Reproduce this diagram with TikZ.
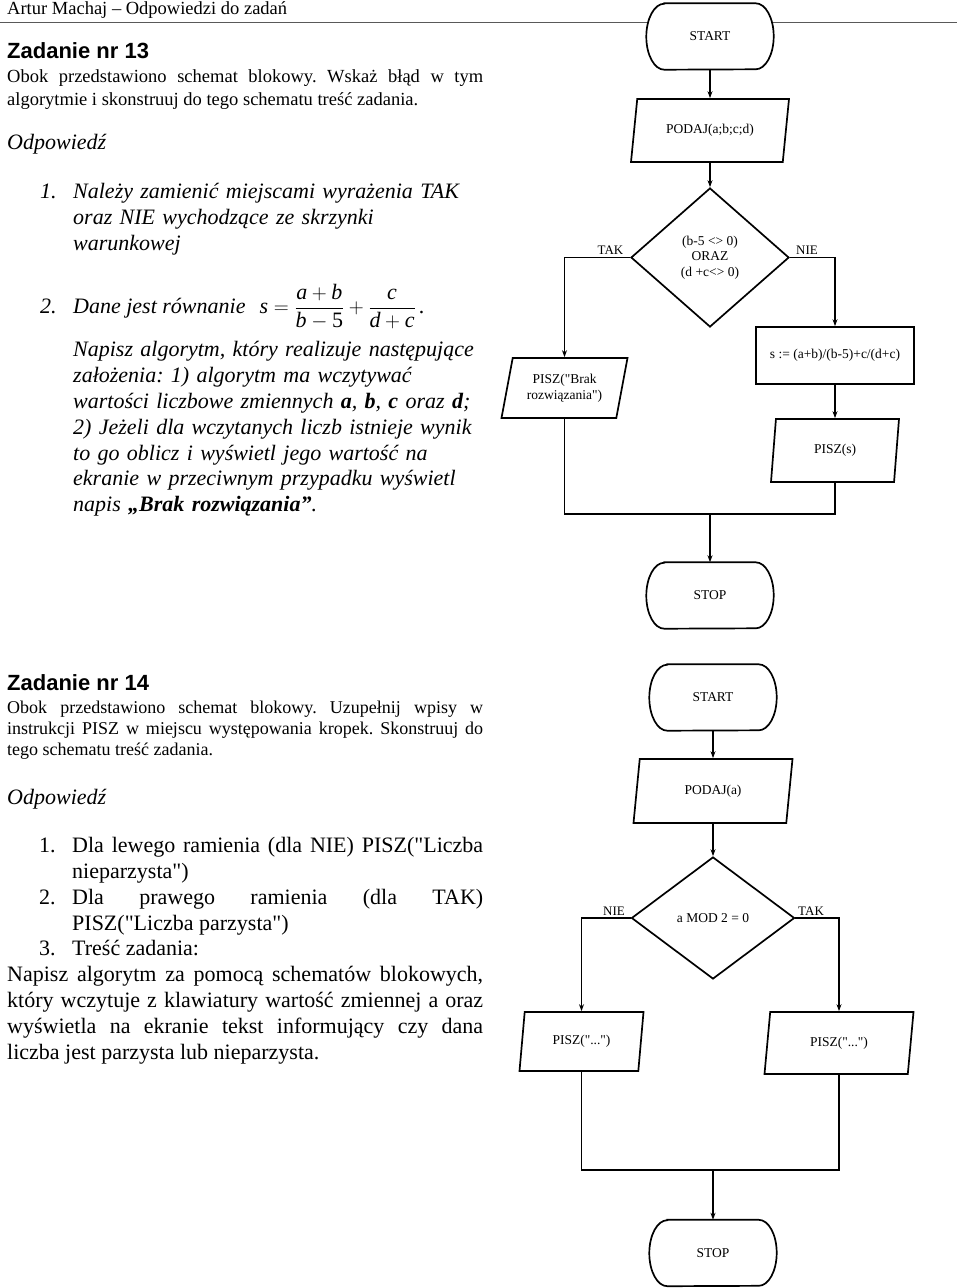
\documentclass[tikz,border=0pt]{standalone}
\usepackage{amsmath}
\usepackage{fontspec}
\setmainfont{Liberation Serif}
\newfontfamily\headfont{Liberation Sans}
\usepackage{tikz}
\usetikzlibrary{shapes.geometric,arrows.meta,positioning,backgrounds}
\frenchspacing
% prosty cudzyslow " (bez zamiany na ”)
\newcommand{\cudz}{\XeTeXglyph\XeTeXcharglyph"22\relax}

\tikzset{
  flow/.style={line width=1.7pt},
  arrow/.style={flow,-{Stealth[length=7pt,width=5pt]}},
  chart/.style={font=\fontsize{13.5}{15.5}\selectfont, inner sep=0pt, align=center},
  terminal/.style={chart, minimum width=127pt, minimum height=66pt},
  io/.style={chart, draw, flow, trapezium, trapezium left angle=#1,
    trapezium right angle={180-#1}, trapezium stretches body},
  io/.default=63,
  process/.style={chart, draw, flow, rectangle},
  decision/.style={chart, draw, flow, diamond},
  lbl/.style={font=\fontsize{13}{15}\selectfont, inner sep=2pt, above},
  tekst/.style={anchor=base west, inner sep=0pt},
  akapit/.style={anchor=north west, inner sep=0pt},
  naglowek/.style={font=\fontsize{22}{26}\selectfont\headfont\bfseries},
  duzy/.style={font=\fontsize{22}{25.8}\selectfont},
  kursywa/.style={font=\fontsize{22}{25.8}\selectfont\itshape}
}

\begin{document}
\begin{tikzpicture}[x=1pt, y=-1pt]
  \useasboundingbox (0,0) rectangle (960,1288);

  % naglowek strony
  \node[tekst, font=\fontsize{18.5}{22}\selectfont] (autor) at (7,14) {Artur Machaj – Odpowiedzi do zadań};

  % Zadanie 13 - tresc
  \node[tekst, naglowek] (z13) at (7,58.5) {Zadanie nr 13};
  \node[akapit, text width=476pt, align=justify, font=\fontsize{18.5}{23}\selectfont] (z13opis) at (7,66.4) {\strut Obok przedstawiono schemat blokowy. Wskaż błąd w tym\linebreak
    algorytmie i skonstruuj do tego schematu treść zadania.};
  \node[tekst, kursywa] (z13odp) at (7,149) {Odpowiedź};

  \node[tekst, kursywa] (z13n1) at (40,198.3) {1.};
  \node[akapit, kursywa, text width=411pt, align=left] (z13p1) at (73,180.2) {\strut Należy zamienić miejscami wyrażenia TAK\\
    oraz NIE wychodzące ze skrzynki\\
    warunkowej};
  \node[tekst, kursywa] (z13n2) at (40,313.3) {2.};
  \node[tekst, kursywa] (z13rown) at (73,313.3) {Dane jest równanie\hspace{14pt}$\textit{s}=\dfrac{\textit{a}+\textit{b}}{\textit{b}-\textup{5}}+\dfrac{\textit{c}}{\textit{d}+\textit{c}}$\,.};
  \node[akapit, kursywa, text width=411pt, align=left] (z13p2) at (73,338.6) {\strut Napisz algorytm, który realizuje następujące\\
    założenia: 1) algorytm ma wczytywać\\
    wartości liczbowe zmiennych \textbf{a}, \textbf{b}, \textbf{c} oraz \textbf{d};\\
    2) Jeżeli dla wczytanych liczb istnieje wynik\\
    to go oblicz i wyświetl jego wartość na\\
    ekranie w przeciwnym przypadku wyświetl\\
    napis \textbf{„Brak rozwiązania”}.};

  % schemat do zadania 13
  \node[terminal] (start1) at (710,36.5) {START};
  \node[io, minimum width=158pt, minimum height=63pt] (podaj1) at (710,130.5) {PODAJ(a;b;c;d)};
  \node[decision, minimum width=158pt, minimum height=139pt] (war1) at (710,257.5) {(b-5 <> 0)\\ORAZ\\(d +c<> 0)};
  \node[io=68, minimum width=126pt, minimum height=60pt] (brak1) at (564.5,388) {PISZ(\cudz Brak\\rozwiązania\cudz)};
  \node[process, minimum width=158pt, minimum height=57pt] (oblicz1) at (835,355.5) {s := (a+b)/(b-5)+c/(d+c)};
  \node[io=68, minimum width=128pt, minimum height=63pt] (pisz1) at (835,450.5) {PISZ(s)};
  \node[terminal] (stop1) at (710,595.5) {STOP};
  \coordinate (laczenie1) at (710,514);

  \draw[arrow] (start1) -- (podaj1);
  \draw[arrow] (podaj1) -- (war1);
  \draw[arrow] (war1.west) -| node[lbl, pos=0.15] (tak1) {TAK} (brak1.north);
  \draw[arrow] (war1.east) -| node[lbl, pos=0.19] (nie1) {NIE} (oblicz1.north);
  \draw[arrow] (oblicz1) -- (pisz1);
  \draw[flow] (brak1.south) |- (laczenie1);
  \draw[flow] (pisz1.south) |- (laczenie1);
  \draw[arrow] (laczenie1) -- (stop1);

  % Zadanie 14 - tresc
  \node[tekst, naglowek] (z14) at (7,690.7) {Zadanie nr 14};
  \node[akapit, text width=476pt, align=justify, font=\fontsize{18}{21}\selectfont] (z14opis) at (7,698.6) {\strut Obok przedstawiono schemat blokowy. Uzupełnij wpisy w\linebreak
    instrukcji PISZ w miejscu występowania kropek. Skonstruuj do\linebreak
    tego schematu treść zadania.};
  \node[tekst, kursywa] (z14odp) at (7,804) {Odpowiedź};

  \node[tekst, duzy] (z14n1) at (39,852.7) {1.};
  \node[akapit, duzy, text width=411pt, align=justify] (z14p1) at (72,834.6) {\strut Dla lewego ramienia (dla NIE) PISZ(\cudz Liczba\linebreak
    nieparzysta\cudz)};
  \node[tekst, duzy] (z14n2) at (39,904.3) {2.};
  \node[akapit, duzy, text width=411pt, align=justify] (z14p2) at (72,886.2) {\strut Dla prawego ramienia (dla TAK)\linebreak
    PISZ(\cudz Liczba parzysta\cudz)};
  \node[tekst, duzy] (z14n3) at (39,955.9) {3.};
  \node[tekst, duzy] (z14p3) at (72,955.9) {Treść zadania:};
  \node[akapit, duzy, text width=476pt, align=justify] (z14p4) at (7,963.6) {\strut Napisz algorytm za pomocą schematów blokowych,\linebreak
    który wczytuje z klawiatury wartość zmiennej a oraz\linebreak
    wyświetla na ekranie tekst informujący czy dana\linebreak
    liczba jest parzysta lub nieparzysta.};

  % schemat do zadania 14
  \node[terminal] (start2) at (713,697.5) {START};
  \node[io, minimum width=159pt, minimum height=64pt] (podaj2) at (713,791) {PODAJ(a)};
  \node[decision, minimum width=163pt, minimum height=122pt] (war2) at (713,918) {a MOD 2 = 0};
  \node[io=67, minimum width=124pt, minimum height=59pt] (pisznie2) at (581.5,1041.5) {PISZ(\cudz...\cudz)};
  \node[io=65, minimum width=149pt, minimum height=62pt] (pisztak2) at (839,1043) {PISZ(\cudz...\cudz)};
  \node[terminal] (stop2) at (713,1253) {STOP};
  \coordinate (laczenie2) at (713,1170);

  \draw[arrow] (start2) -- (podaj2);
  \draw[arrow] (podaj2) -- (war2);
  \draw[arrow] (war2.west) -| node[lbl, pos=0.17] (nie2) {NIE} (pisznie2.north);
  \draw[arrow] (war2.east) -| node[lbl, pos=0.18] (tak2) {TAK} (pisztak2.north);
  \draw[flow] (pisznie2.south) |- (laczenie2);
  \draw[flow] (pisztak2.south) |- (laczenie2);
  \draw[arrow] (laczenie2) -- (stop2);

  % tlo: linia naglowka i obrys pol START/STOP
  \begin{scope}[on background layer]
    \fill[white] (0,0) rectangle (960,1288);
    \draw[black!65, line width=1pt] (0,22) -- (957,22);
    \foreach \t in {start1,stop1,start2,stop2}
      \draw[flow, fill=white] ([xshift=18pt]\t.north west) -- ([xshift=-18pt]\t.north east)
        arc[start angle=90, end angle=-90, x radius=18pt, y radius=33pt]
        -- ([xshift=18pt]\t.south west)
        arc[start angle=270, end angle=90, x radius=18pt, y radius=33pt] -- cycle;
  \end{scope}
\end{tikzpicture}
\end{document}
